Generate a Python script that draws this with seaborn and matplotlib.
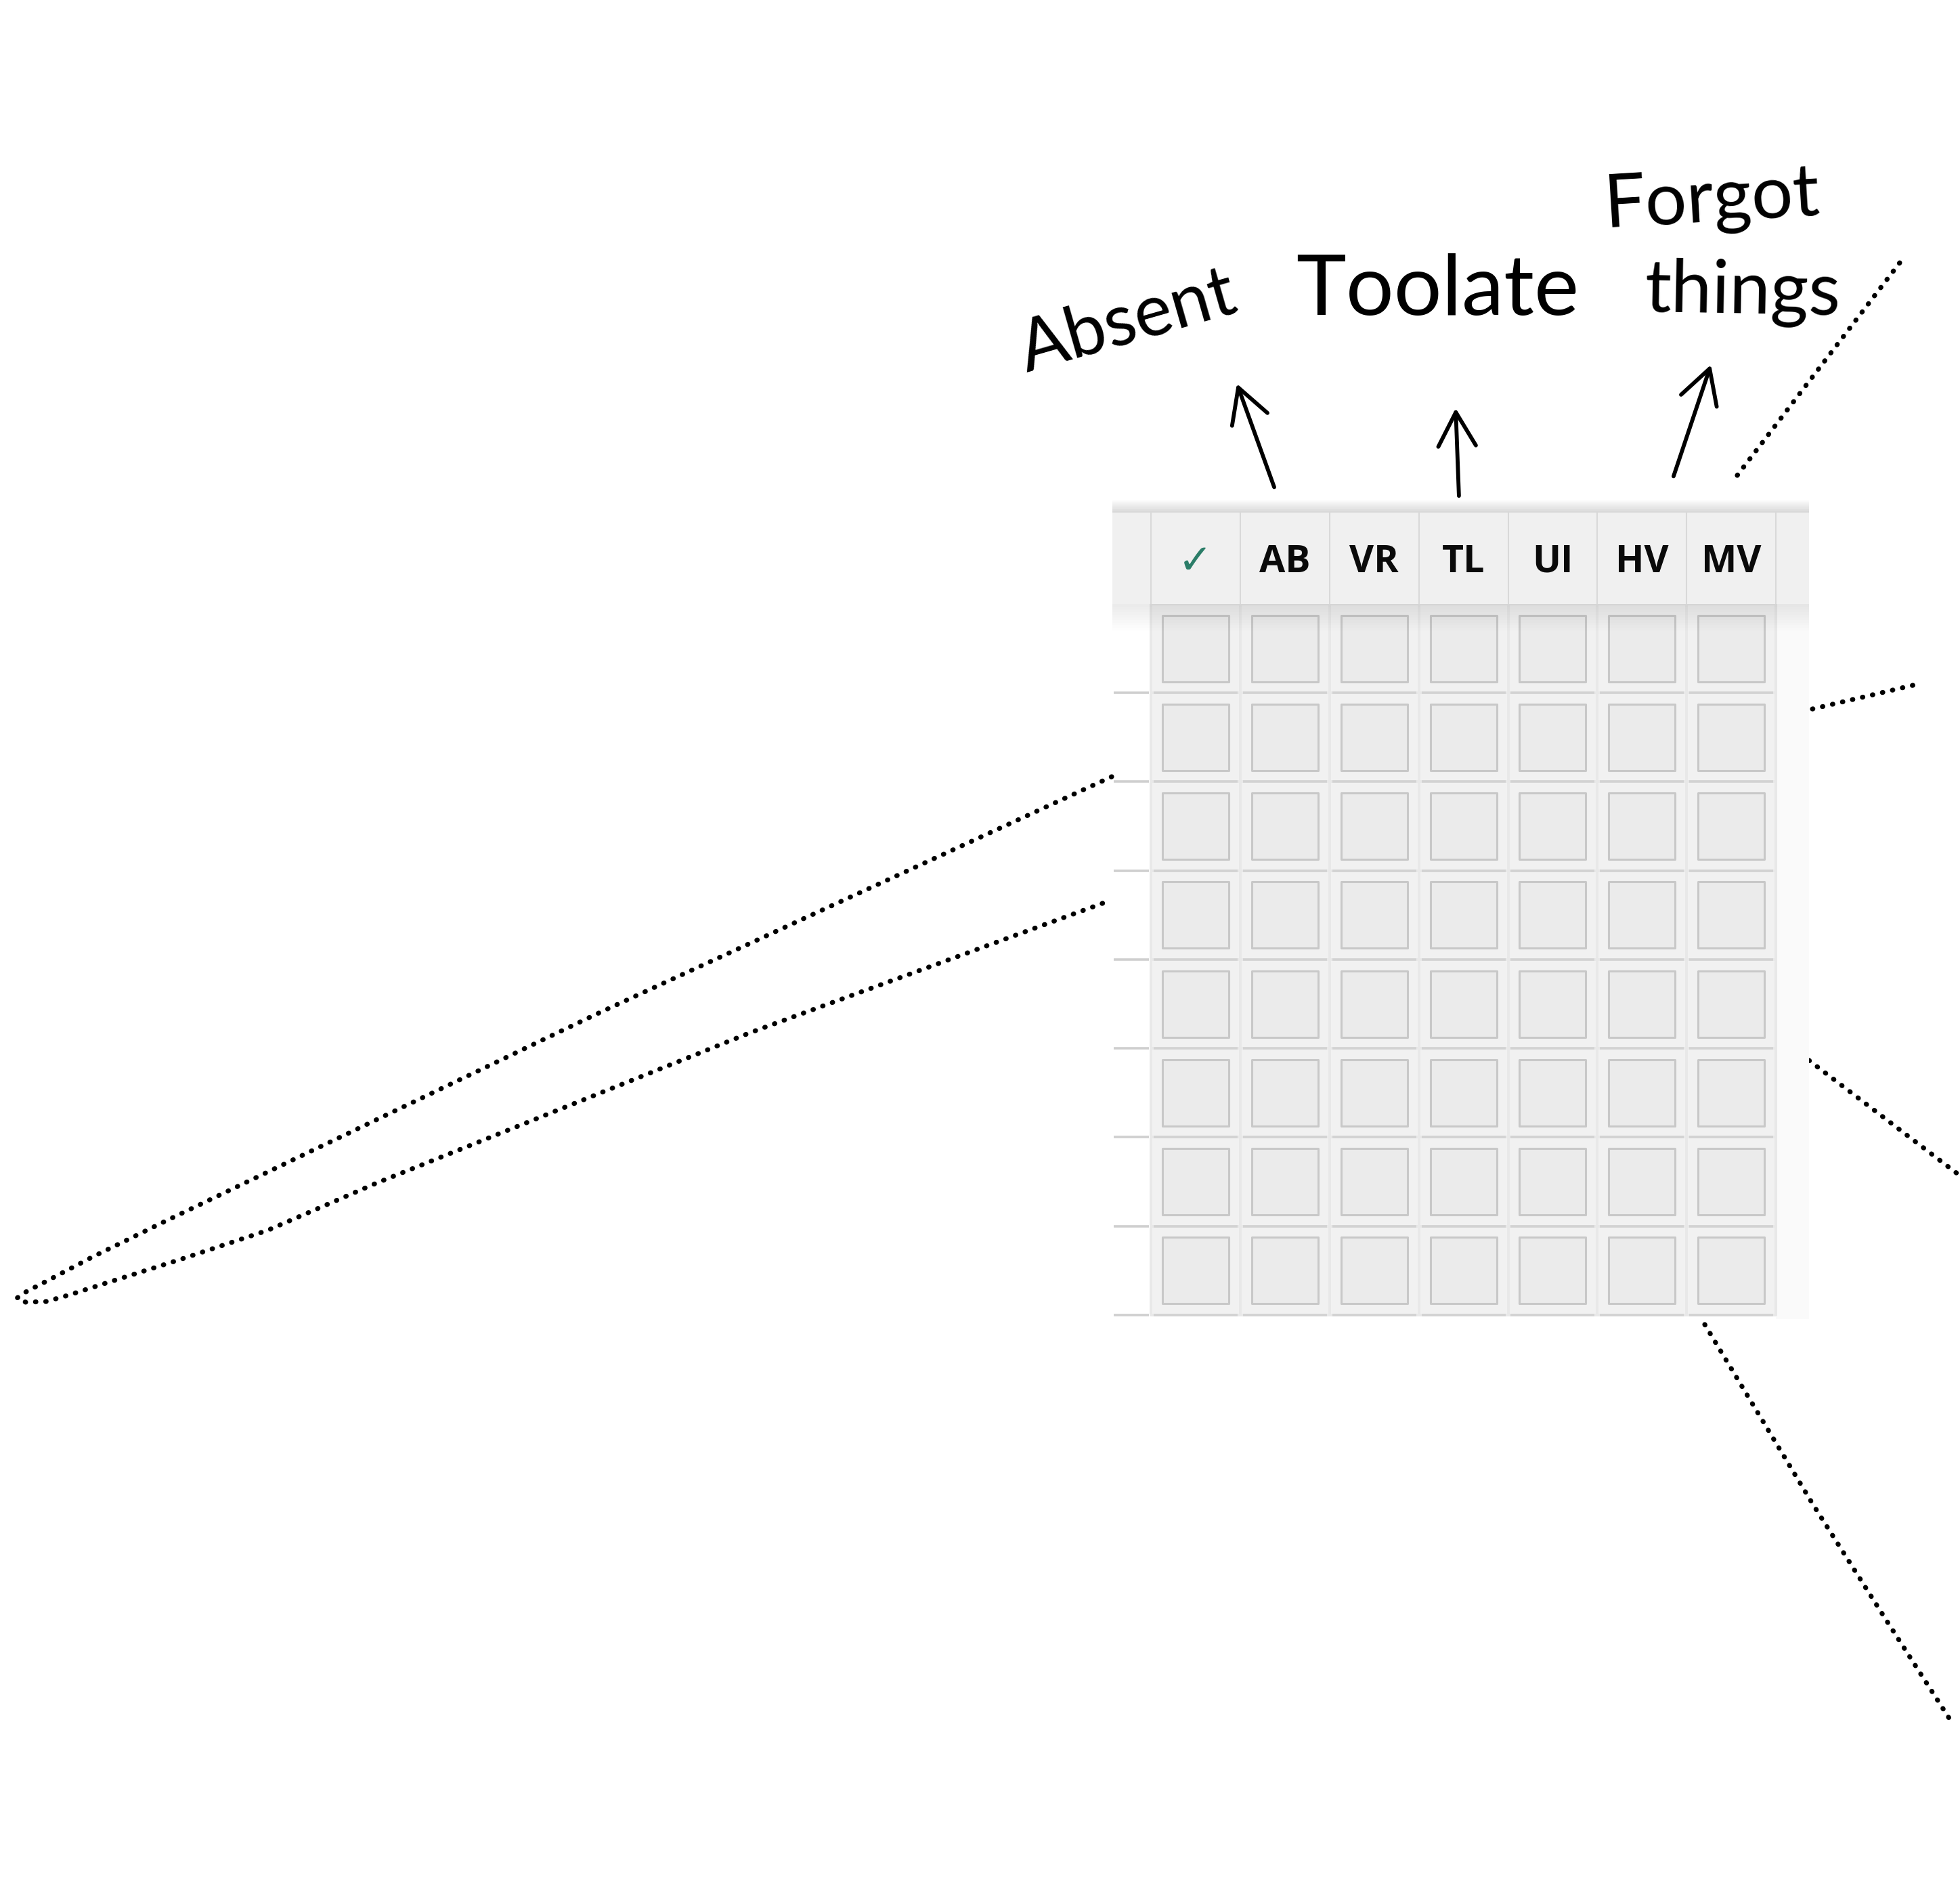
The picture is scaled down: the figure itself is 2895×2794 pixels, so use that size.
import numpy as np
import pandas as pd
import seaborn as sns
import matplotlib.pyplot as plt
from matplotlib.colors import ListedColormap
from matplotlib.patches import Rectangle, FancyArrowPatch

# attendance sheet: header codes and an empty (unchecked) grid
columns = ["✓", "AB", "VR", "TL", "UI", "HV", "MV"]
rows = [1, 2, 3, 4, 5, 6, 7, 8]
checked = [
    [0, 0, 0, 0, 0, 0, 0],
    [0, 0, 0, 0, 0, 0, 0],
    [0, 0, 0, 0, 0, 0, 0],
    [0, 0, 0, 0, 0, 0, 0],
    [0, 0, 0, 0, 0, 0, 0],
    [0, 0, 0, 0, 0, 0, 0],
    [0, 0, 0, 0, 0, 0, 0],
    [0, 0, 0, 0, 0, 0, 0],
]
# handwritten notes above the header
notes = ["Absent", "Toolate", "Forgot", "things"]

sns.set_style("white")
plt.rcParams["font.family"] = ["DejaVu Sans"]

df = pd.DataFrame(checked, index=rows, columns=columns)

fig = plt.figure(figsize=(28.95, 27.94), dpi=100)

# overlay in pixel coordinates for the sketch annotations
ax0 = fig.add_axes([0, 0, 1, 1])
ax0.set_xlim(0, 2895)
ax0.set_ylim(2794, 0)
ax0.set_axis_off()

dots = dict(color="black", lw=5.2, linestyle=(0, (0.1, 2.0)), dash_capstyle="round")
ax0.plot([1642, 880, 247, 135, 80, 38, 25, 38, 68, 100, 159, 263, 395, 554, 1108, 1642],
         [1147, 1498, 1802, 1857, 1886, 1908, 1917, 1923, 1922, 1913, 1894, 1861, 1817, 1748, 1525, 1329],
         **dots)
ax0.plot([2566, 2806], [702, 388], **dots)
ax0.plot([2677, 2834], [1047, 1010], **dots)
ax0.plot([2672, 2900], [1566, 1740], **dots)
ax0.plot([2518, 2678, 2787, 2880], [1956, 2222, 2394, 2539], **dots)

hand = dict(family=["Lato", "DejaVu Sans"], fontweight="normal", color="black",
            ha="center", va="baseline", rotation_mode="anchor")
ax0.text(1674, 505, notes[0], fontsize=76, rotation=16, **hand)
ax0.text(2123, 465, notes[1], fontsize=90, rotation=0, **hand)
ax0.text(2530, 326, notes[2], fontsize=78, rotation=3.5, **hand)
ax0.text(2574, 463, notes[3], fontsize=78, rotation=-1, **hand)

for (x0, y0), (x1, y1) in [((1883, 722), (1826, 564)),
                           ((2155, 735), (2150, 600)),
                           ((2471, 706), (2528, 536))]:
    ax0.add_patch(FancyArrowPatch((x0, y0), (x1, y1),
                                  arrowstyle="->,head_length=36,head_width=20",
                                  mutation_scale=1, lw=4.2, color="black",
                                  capstyle="round", joinstyle="round"))

# the checkbox table
ax = fig.add_axes([1643 / 2895, 1 - 1948 / 2794, 1029 / 2895, 1210 / 2794])
ax.set_zorder(2)
ax.patch.set_alpha(0)
sns.heatmap(df, ax=ax, cmap=ListedColormap(["#f1f1f1"]), cbar=False,
            linewidths=1.5, linecolor="#e8e8e8", xticklabels=False, yticklabels=False)
ax.set_xlim(-0.432, 7.37)
ax.set_ylim(8.046, -1.173)
ax.set_axis_off()

# right strip and header block
ax.add_patch(Rectangle((7, 0), 0.37, 8.046, facecolor="#fafafa", edgecolor="none", zorder=0.5))
ax.add_patch(Rectangle((-0.432, -1.03), 7.802, 1.03, facecolor="#f0f0f0", edgecolor="none", zorder=3))
for i in range(12):
    g = 1.0 - 0.15 * (i + 1) / 12
    ax.add_patch(Rectangle((-0.432, -1.173 + i * 0.143 / 12), 7.802, 0.143 / 12 + 0.002,
                           facecolor=(g, g, g), edgecolor="none", zorder=3))
ax.vlines(range(0, 8), -1.03, 0, color="#d9d9d9", lw=1.5, zorder=4)

for j, name in enumerate(columns):
    if name == "✓":
        ax.text(j + 0.5, -0.47, name, ha="center", va="center", fontsize=44,
                color="#2b7d68", zorder=5)
    else:
        ax.text(j + 0.5, -0.47, name, ha="center", va="center", fontsize=40,
                family=["Open Sans", "DejaVu Sans"], fontweight="bold",
                color="#0a0a0a", zorder=5)

# row separators with small gaps at column boundaries
for r in range(1, len(rows) + 1):
    ax.hlines(r, -0.42, -0.02, color="#cfcfcf", lw=2.6, zorder=3)
    for c in range(len(columns)):
        ax.hlines(r, c + 0.03, c + 0.97, color="#d2d2d2", lw=2.6, zorder=3)

# the empty checkboxes
boxes = df.reset_index().melt(id_vars="index", var_name="col", value_name="val")
boxes["x"] = boxes["col"].map({c: i + 0.5 for i, c in enumerate(columns)})
boxes["y"] = boxes["index"] - 0.5
sns.scatterplot(data=boxes, x="x", y="y", marker="s", s=4900, color="#ebebeb",
                edgecolor="#c8c8c8", linewidth=2.2, legend=False, ax=ax, zorder=4)
ax.set_xlabel("")
ax.set_ylabel("")

# soft shadow under the header
for i in range(10):
    ax.add_patch(Rectangle((-0.432, i * 0.03), 7.802, 0.03, facecolor="black",
                           alpha=0.08 * (1 - i / 10), edgecolor="none", zorder=4.5))

fig.savefig("out.png", dpi=100, facecolor="white")
